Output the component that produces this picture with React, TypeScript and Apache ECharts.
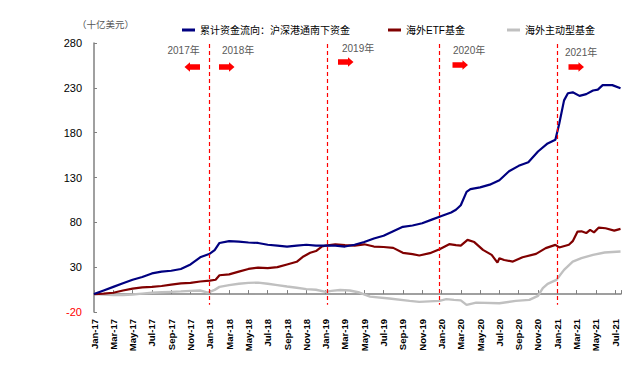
import React, { useEffect, useRef } from "react";
import * as echarts from "echarts";

// months since Jan 2017, value (US$ bn)
const southbound: [number, number][] = [
  [0, 0], [1, 4], [2, 8], [3, 12], [4, 16], [5, 19], [6, 23], [7, 25], [8, 26], [9, 28],
  [10, 33], [11, 41], [12, 45], [12.5, 49], [13, 57], [14, 59], [15, 58.5], [16, 57.5],
  [17, 57], [18, 55], [19, 54], [20, 53], [21, 54], [22, 55], [23, 54], [24, 54], [25, 54],
  [26, 53], [27, 55], [28, 58], [29, 62], [30, 65], [31, 70], [32, 75], [33, 76.5], [34, 79],
  [35, 83], [36, 87], [37, 91], [37.5, 94], [38, 99], [38.6, 114], [39, 117], [40, 119],
  [41, 122], [42, 127], [43, 137], [44, 143], [45, 147], [46, 159], [47, 168], [47.8, 172],
  [48.2, 190], [48.7, 216], [49.1, 224], [49.6, 225], [50.3, 221], [51, 223], [51.7, 227],
  [52.2, 228], [52.7, 233], [53.7, 233], [54.55, 229.6],
];
const etfFunds: [number, number][] = [
  [0, 0], [1, 0.5], [2, 1.5], [3, 4], [4, 6], [5, 7.5], [6, 8], [7, 9], [8, 10.5], [9, 12],
  [10, 12.5], [11, 14], [12, 15], [12.6, 16], [13, 21], [14, 22], [15, 25], [16, 28],
  [17, 29.5], [18, 29], [19, 30], [20, 33], [21, 36], [21.7, 42], [22.4, 46], [23, 48],
  [23.6, 53], [24, 54], [25, 55.5], [26, 54.5], [27, 54], [28, 55.5], [29, 53], [30, 52.5],
  [31, 51.5], [32, 46], [33, 44.5], [33.7, 43], [34.8, 45.6], [35.8, 50], [36.8, 55.6],
  [37.5, 54.5], [38, 54], [38.7, 60.4], [39.4, 58], [40.3, 49.3], [41.2, 43.7], [41.8, 35.1],
  [42, 40], [42.5, 38], [43.4, 36.2], [44.4, 41], [45.8, 44.8], [46.8, 51.2], [47.8, 54.9],
  [48.2, 52], [49.2, 55], [49.6, 59], [50.1, 69.7], [50.5, 70], [51, 68], [51.4, 71.6],
  [51.8, 68.8], [52.3, 74.2], [53, 73.4], [53.9, 70.8], [54.55, 72.7],
];
const activeFunds: [number, number][] = [
  [0, 0], [1, -0.5], [2, -1], [3, -1], [4, -0.5], [5, 0.5], [6, 1.5], [7, 2], [8, 2.5],
  [9, 3], [10, 3.6], [11, 4], [11.8, 1.7], [12.5, 4.7], [13, 8], [14, 10], [15, 11.5],
  [16, 12.5], [17, 12.8], [18, 11.5], [19, 10], [20, 8.4], [21, 7], [22, 5.5], [23, 4.8],
  [24, 2.5], [24.6, 3.5], [25.5, 4.5], [26.5, 4], [27.5, 1.7], [28.6, -2.8], [30.6, -5],
  [32.7, -7.6], [33.7, -8.7], [35.8, -7.6], [36.5, -5.7], [37.3, -6.5], [38, -7],
  [38.6, -12], [39.6, -9.5], [42, -10.2], [43.7, -7.6], [45.1, -6.5], [46, -2], [46.5, 6.6],
  [47, 11.4], [47.9, 15.8], [48.7, 27], [49.6, 36.2], [50.5, 40], [51.7, 43.7],
  [52.9, 46.3], [54.55, 47.4],
];

const seriesNames = ["累计资金流向：沪深港通南下资金", "海外ETF基金", "海外主动型基金"];
const seriesColors = ["#000080", "#800000", "#C0C0C0"];

const monthTickLabels = [
  "Jan-17", "Mar-17", "May-17", "Jul-17", "Sep-17", "Nov-17",
  "Jan-18", "Mar-18", "May-18", "Jul-18", "Sep-18", "Nov-18",
  "Jan-19", "Mar-19", "May-19", "Jul-19", "Sep-19", "Nov-19",
  "Jan-20", "Mar-20", "May-20", "Jul-20", "Sep-20", "Nov-20",
  "Jan-21", "Mar-21", "May-21", "Jul-21",
];

const yearDividers = [11.9, 24.2, 35.8, 48];
const yearLabels = ["2017年", "2018年", "2019年", "2020年", "2021年"];
const unitLabel = "（十亿美元）";

const FONT = "Arial, 'Liberation Sans', 'Noto Sans CJK SC', sans-serif";

function arrow(x0: number, cy: number, dir: 1 | -1) {
  const w = 15.5, b = 2.7, h = 4.8, body = 10;
  const pts: number[][] = [
    [0, -b], [body, -b], [body, -h], [w, 0], [body, h], [body, b], [0, b],
  ].map(([dx, dy]) => [dir === 1 ? x0 + dx : x0 + w - dx, cy + dy]);
  return {
    type: "polygon",
    shape: { points: pts },
    style: { fill: "#FF0000" },
    silent: true,
  };
}

export default function App() {
  const ref = useRef<HTMLDivElement>(null);
  useEffect(() => {
    document.body.style.margin = "0";
    const chart = echarts.init(ref.current!, null, { renderer: "svg" });
    const yearPos = [
      [167.5, 50.7], [222, 50.7], [342, 48.7], [453, 50.7], [565, 52],
    ];
    const arrowPos: [number, number, 1 | -1][] = [
      [184.5, 67, -1], [219, 67, 1], [338, 62, 1], [452.5, 65, 1], [568.5, 67, 1],
    ];
    const legendLefts = [177, 383, 502];
    chart.setOption({
      animation: false,
      textStyle: { fontFamily: FONT },
      grid: { left: 94, right: 12, top: 43, bottom: 56 },
      legend: seriesNames.map((n, i) => ({
        data: [n],
        left: legendLefts[i],
        top: 20,
        icon: "rect",
        itemWidth: 13,
        itemHeight: 3,
        selectedMode: false,
        textStyle: { fontSize: 10, color: "#000", fontFamily: FONT },
      })),
      xAxis: [
        {
          type: "value",
          min: 0,
          max: 54.6,
          interval: 2,
          axisLine: { onZero: true, lineStyle: { color: "#808080", width: 1.5 } },
          axisTick: { show: true, inside: true, length: 4, lineStyle: { color: "#808080" } },
          axisLabel: { show: false },
          splitLine: { show: false },
        },
        {
          type: "value",
          position: "bottom",
          min: 0,
          max: 54.6,
          interval: 2,
          axisLine: { show: false, onZero: false },
          axisTick: { show: false },
          splitLine: { show: false },
          axisLabel: {
            rotate: 90,
            margin: 7,
            fontSize: 9.5,
            fontWeight: "bold",
            color: "#000",
            showMaxLabel: false,
            formatter: (v: number) => {
              const idx = Math.round(v / 2);
              return Math.abs(v - idx * 2) < 1e-6 ? monthTickLabels[idx] ?? "" : "";
            },
          },
        },
      ],
      yAxis: {
        type: "value",
        min: -20,
        max: 280,
        interval: 50,
        axisLine: { show: true, onZero: false, lineStyle: { color: "#808080", width: 1.5 } },
        axisTick: { show: true, inside: true, length: 3, lineStyle: { color: "#808080" } },
        splitLine: { show: false },
        axisLabel: {
          margin: 12,
          fontSize: 11,
          color: "#000",
          formatter: (v: number) => (v < 0 ? `{neg|${v}}` : `${v}`),
          rich: { neg: { color: "#FF0000", fontSize: 11 } },
        },
      },
      series: [
        {
          name: seriesNames[0],
          type: "line",
          data: southbound,
          showSymbol: false,
          lineStyle: { color: seriesColors[0], width: 2.2 },
          itemStyle: { color: seriesColors[0] },
          z: 4,
          markLine: {
            silent: true,
            symbol: "none",
            label: { show: false },
            lineStyle: { color: "#FF0000", type: [4, 3], width: 1.2 },
            data: yearDividers.map((m) => [{ coord: [m, 279] }, { coord: [m, -12] }]),
          },
        },
        {
          name: seriesNames[1],
          type: "line",
          data: etfFunds,
          showSymbol: false,
          lineStyle: { color: seriesColors[1], width: 2.2 },
          itemStyle: { color: seriesColors[1] },
          z: 3,
        },
        {
          name: seriesNames[2],
          type: "line",
          data: activeFunds,
          showSymbol: false,
          lineStyle: { color: seriesColors[2], width: 2.4 },
          itemStyle: { color: seriesColors[2] },
          z: 2,
        },
      ],
      graphic: [
        {
          type: "text",
          left: 77,
          top: 20,
          style: { text: unitLabel, fontSize: 9.5, fill: "#555", fontFamily: FONT },
        },
        ...yearLabels.map((t, i) => ({
          type: "text",
          x: yearPos[i][0],
          y: yearPos[i][1],
          style: {
            text: t,
            fontSize: 10,
            fill: "#595959",
            fontFamily: FONT,
            verticalAlign: "middle",
          },
        })),
        ...arrowPos.map(([x, y, d]) => arrow(x, y, d)),
      ],
    });
    return () => chart.dispose();
  }, []);
  return <div ref={ref} style={{ width: 633, height: 368 }} />;
}
